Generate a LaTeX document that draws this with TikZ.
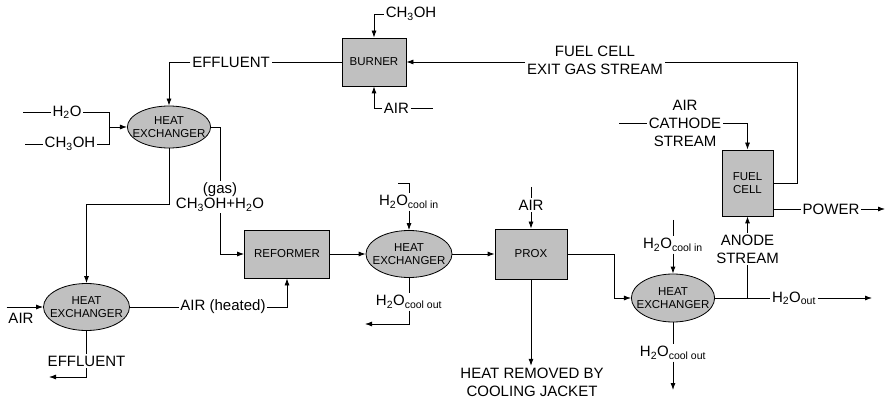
\documentclass[tikz,border=0pt]{standalone}
\usepackage{fontspec}
\setmainfont{Liberation Sans}
\usetikzlibrary{arrows.meta,shapes.geometric}
\definecolor{unitgray}{HTML}{C0C0C0}
\newcommand{\water}{H\textsubscript{2}O}

\begin{document}
\begin{tikzpicture}[x=1pt, y=-1pt, line width=0.8pt, >={Latex[length=7pt,width=5pt]},
  unit/.style={draw, fill=unitgray, font=\fontsize{11.5}{13.5}\selectfont, align=center},
  hx/.style={ellipse, draw, fill=unitgray, minimum width=86pt, minimum height=47pt,
    inner xsep=-7pt, inner ysep=-4pt, font=\fontsize{11.5}{13.5}\selectfont, align=center},
  lbl/.style={font=\fontsize{15}{18}\selectfont, inner sep=1.5pt, align=center}]
  \useasboundingbox (0,0) rectangle (886,398);

  \node[unit, minimum width=64pt, minimum height=48pt] (burner) at (374,62) {BURNER};
  \node[unit, minimum width=85pt, minimum height=48pt] (reformer) at (287,254) {REFORMER};
  \node[unit, minimum width=72pt, minimum height=50pt] (prox) at (531,254) {PROX};
  \node[unit, minimum width=51pt, minimum height=66pt] (fuelcell) at (747.5,183) {FUEL\\CELL};

  \node[hx, minimum width=83pt, minimum height=42pt] (hx1) at (169,127) {HEAT\\EXCHANGER};
  \node[hx] (hx2) at (86.5,307) {HEAT\\EXCHANGER};
  \node[hx] (hx3) at (409,254) {HEAT\\EXCHANGER};
  \node[hx, minimum width=82pt, minimum height=48pt] (hx4) at (673,298) {HEAT\\EXCHANGER};

  \node[lbl] (ch3burner) at (411,14) {CH\textsubscript{3}OH};
  \node[lbl, anchor=west] (airburner) at (382,108) {AIR};
  \coordinate (airburnerend) at (433,108);
  \draw[->] (ch3burner.west) -| (burner.north);
  \draw[->] (airburner.west) -| (burner.south);
  \draw (airburner.east) -- (airburnerend);

  \node[lbl] (exitgas) at (595,60) {FUEL CELL\\EXIT GAS STREAM};
  \coordinate (exitbend) at (797,62);
  \draw[->] (exitgas.west |- burner.east) -- (burner.east);
  \draw (fuelcell.east) -| (exitbend) -- (exitgas.east |- exitbend);

  \node[lbl] (cathode) at (685,123) {AIR\\CATHODE\\STREAM};
  \coordinate (cathodestart) at (619,123);
  \draw (cathodestart) -- (cathode.west);
  \draw[->] (cathode.east) -| (fuelcell.north);

  \node[lbl] (power) at (831,209) {POWER};
  \coordinate (powerend) at (885,209);
  \draw (fuelcell.east |- power.west) -- (power.west);
  \draw[->] (power.east) -- (powerend);

  \node[lbl] (anode) at (747.5,249) {ANODE\\STREAM};
  \draw[->] (anode.north) -- (fuelcell.south);
  \draw (anode.south) -- (anode.south |- hx4.east);

  \node[lbl] (h2oout) at (794,298) {\water\textsubscript{out}};
  \coordinate (h2oend) at (872,298);
  \draw (hx4.east) -- (h2oout.west);
  \draw[->] (h2oout.east) -- (h2oend);

  \node[lbl] (coolin4) at (673,245) {\water\textsubscript{cool in}};
  \node[lbl] (coolout4) at (673,353) {\water\textsubscript{cool out}};
  \coordinate (coolin4start) at (673,220);
  \coordinate (coolout4end) at (673,390);
  \draw (coolin4start) -- (coolin4.north);
  \draw[->] (coolin4.south) -- (hx4.north);
  \draw (hx4.south) -- (coolout4.north);
  \draw[->] (coolout4.south) -- (coolout4end);

  \node[lbl] (airprox) at (531,205) {AIR};
  \coordinate (airproxstart) at (531,187);
  \draw (airproxstart) -- (airprox.north);
  \draw[->] (airprox.south) -- (prox.north);
  \draw[->] (prox.east) -- ++(47,0) |- (hx4.west);
  \node[lbl] (heatjacket) at (532,382) {HEAT REMOVED BY\\COOLING JACKET};
  \draw[->] (prox.south) -- (prox.south |- heatjacket.north);

  \node[lbl] (coolin3) at (409,202) {\water\textsubscript{cool in}};
  \node[lbl] (coolout3) at (409,302) {\water\textsubscript{cool out}};
  \coordinate (coolin3start) at (398,183);
  \coordinate (coolout3end) at (365,324);
  \draw (coolin3start) -| (coolin3.north);
  \draw[->] (coolin3.south) -- (hx3.north);
  \draw (hx3.south) -- (coolout3.north);
  \draw[->] (coolout3.south) |- (coolout3end);
  \draw[->] (reformer.east) -- (hx3.west);
  \draw[->] (hx3.east) -- (prox.west);

  \node[lbl] (gasfeed) at (220,197) {(gas)\\[-3pt]CH\textsubscript{3}OH+\water};
  \draw (hx1.east) -| (gasfeed.north);
  \draw[->] (gasfeed.south) |- (reformer.west);
  \node[lbl] (airheated) at (223,307) {AIR (heated)};
  \draw (hx2.east) -- (airheated.west);
  \draw[->] (airheated.east) -| (reformer.south);

  \node[lbl] (h2ofeed) at (67,112) {\water};
  \node[lbl] (ch3feed) at (70,144) {CH\textsubscript{3}OH};
  \coordinate (h2ostart) at (23,112);
  \coordinate (ch3start) at (25,144);
  \coordinate (feedjoin) at (109,127);
  \draw (h2ostart) -- (h2ofeed.west);
  \draw (ch3start) -- (ch3feed.west);
  \draw (h2ofeed.east) -| (feedjoin);
  \draw (ch3feed.east) -| (feedjoin);
  \draw[->] (feedjoin) -- (hx1.west);

  \node[lbl] (effburner) at (231,62) {EFFLUENT};
  \draw (burner.west) -- (effburner.east);
  \draw[->] (effburner.west) -| (hx1.north);
  \draw[->] (hx1.south) -- ++(0,56) -| (hx2.north);

  \node[lbl] (airhx2) at (21,318) {AIR};
  \draw[->] (airhx2.north west |- hx2.west) -- (hx2.west);
  \node[lbl] (effhx2) at (86.5,361) {EFFLUENT};
  \coordinate (effhx2end) at (49,377);
  \draw (hx2.south) -- (effhx2.north);
  \draw[->] (effhx2.south) |- (effhx2end);
\end{tikzpicture}
\end{document}
